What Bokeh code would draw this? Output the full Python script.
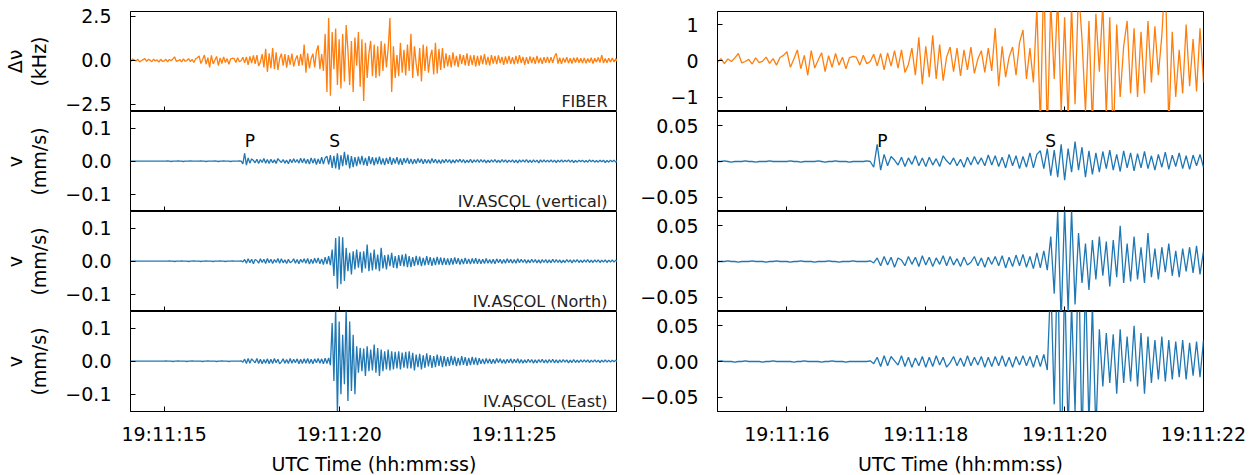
import numpy as np
from bokeh.plotting import figure
from bokeh.models import Range1d, FixedTicker, Label
from bokeh.layouts import column, row
from bokeh.embed import file_html
from bokeh.resources import INLINE

# ---------------- data ----------------
# time grid: seconds after 19:11:00, sampled every 0.05 s starting at 19:11:14
T0 = 14.0
DT = 0.05

# fiber frequency shift, in units of 0.01 kHz
fiber = [
    3, -5, 8, 2, -4, 6, -9, -2, 4, 10, -6, 5, 1, -8, 7, -4, 3, -10, 6, -5,
    -4, 6, -8, 5, -2, 8, 20, -6, -2, 4, -9, 8, -5, -1, 10, -7, 6, -12, 9, 15,
    25, -18, 5, 30, -22, 15, -40, 28, -20, 2, 22, -30, 14, -18, 20, -12, 10, -22, 8, 12,
    10, -12, 15, -8, -2, 18, -14, 20, -25, 22, -15, 28, -20, 30, -32, -10, 35, -40, 65, -65,
    40, -45, 70, -50, 45, -55, 10, 38, -30, 35, -42, 30, -25, 38, -35, 5, 28, -32, 35, -28,
    90, -70, 40, -45, 10, 38, -40, 50, 85, -50, 35, -60, 150, -180, 240, -200, 160, -50, 180, -140,
    120, -160, 150, -120, 200, 60, -140, 110, -180, 130, -30, 160, -150, 120, -230, 100, -100, 40, 110, -90,
    90, -100, 80, -90, 110, -60, 95, -40, 70, 240, -180, 80, -100, 30, -90, 100, -70, 60, -85, 90,
    -60, 150, -100, 80, -20, -90, 70, -120, 90, -60, 80, -70, 20, 60, -80, 100, -75, 65, -55, 70,
    -45, 40, -35, 30, -40, 45, -30, 25, -38, 35, -20, 30, -28, 40, -32, 28, -25, 30, -35, 25,
    -30, 28, -22, 35, -25, 20, -28, 30, -18, 25, -22, 28, -15, 20, -26, 22, -18, 25, -20, 18,
    -22, 25, -18, 30, -15, 20, -25, 18, -20, 22, -15, 18, -20, 25, -16, 15, -20, 18, -14, 20,
    -16, 18, -14, 22, 40, -18, 15, -20, 14, -12, 18, -16, 12, -18, 15, -12, 16, -14, 12, -15,
    14, -16, 10, -12, 15, -18, 12, -10, 16, -12, 30, -15, 10, -14, 12, -10, 13, -9, 10, -8,
    6,
]

# IV.ASCOL velocities, in micrometres per second
vertical = [
    0, 0, 0, 0, 0, 0, 0, 0, 0, 0, 0, 0, 0, 0, 0, 0, 0, 0, 0, 0,
    0, 0, 1, 0, -1, 0, 0, 0, 1, 0, 0, -1, 0, 0, 0, 1, 0, 0, 0, 0,
    0, 1, 0, 0, -1, 0, 0, 0, 0, 1, 0, -1, 0, 0, 1, 0, 0, 0, -1, 0,
    0, 0, 0, 1, 0, -8, 24, -12, 10, -6, 7, 2, -5, 6, -7, 5, -4, 8, -6, 5,
    -7, 6, -5, 4, -7, 8, 1, -4, 5, -6, 3, -8, 6, -5, 7, -4, 5, -6, 9, -5,
    8, -7, 6, -9, 10, -6, 8, -10, 7, -8, 12, -9, 10, 15, -10, 18, -20, 16, -22, 24,
    -26, 18, -15, 28, -12, 20, -22, 15, -18, 12, -15, 14, -10, 16, -12, 10, -14, 15, -9, 12,
    -13, 11, -9, 14, -10, 8, -12, 10, -8, 13, -11, 9, -7, 12, -10, 8, -11, 9, -6, 10,
    -8, 7, -9, 6, -7, 8, -5, 7, -8, 6, -6, 5, -7, 8, -5, 6, -6, 4, -7, 5,
    -5, 6, -4, 5, -6, 4, -5, 5, -3, 6, -4, 5, -5, 3, -4, 6, -5, 4, -3, 5,
    -4, 5, -3, 4, -5, 3, -4, 4, -3, 5, -4, 3, -4, 5, -3, 4, -4, 3, -3, 4,
    -4, 3, -5, 4, -3, 4, -3, 5, -4, 3, -4, 4, -3, 3, -5, 4, -3, 4, -3, 3,
    -3, 4, -3, 3, -4, 3, -3, 4, -3, 3, -2, 4, -3, 3, -4, 2, -3, 3, -2, 3,
    -3, 2, -3, 4, -2, 3, -3, 2, -3, 3, -2, 3, -4, 2, -3, 3, -2, 3, -3, 2,
    -2,
]

north = [
    0, 0, 0, 0, 0, 0, 0, 0, 0, 0, 0, 0, 0, 0, 0, 0, 0, 0, 0, 0,
    0, 0, 0, 1, 0, 0, -1, 0, 0, 0, 1, 0, 0, 0, -1, 0, 0, 1, 0, 0,
    0, -1, 0, 0, 1, 0, 0, 0, -1, 0, 0, 0, 1, 0, 0, -1, 0, 0, 0, 1,
    0, 0, 0, 0, 1, -2, 5, -6, 7, -5, 6, -8, 5, 2, -6, 7, -4, 6, -7, 8,
    -5, 6, -7, 5, -4, 8, -6, 7, -5, 4, -7, 6, -5, -1, 7, -6, 5, -8, 6, -4,
    7, -6, 8, -9, 6, -7, 9, -6, 10, -8, 7, -10, 12, -9, 15, -12, 35, -45, 70, -83,
    75, -70, 72, -60, 40, -30, 25, -40, 30, -25, 35, -20, 28, -35, 30, -22, 50, -30, 25, -28,
    35, -25, 20, -30, 40, -22, 18, -25, 20, -15, 25, -20, 15, -22, 18, -14, 20, -16, 22, -18,
    15, -18, 12, -14, 16, -12, 14, -15, 10, -13, 15, -11, 12, -14, 10, -12, 13, -10, 11, -12,
    10, -11, 8, -12, 9, -10, 11, -8, 9, -10, 7, -9, 10, -8, 7, -9, 8, -7, 9, -8,
    7, -8, 6, -7, 8, -6, 5, -7, 6, -8, 7, -5, 6, -7, 5, -6, 7, -5, 6, -6,
    5, -6, 7, -5, 6, -4, 5, -6, 4, -5, 6, -4, 5, -5, 4, -6, 5, -4, 5, -5,
    4, -5, 6, -4, 5, -4, 4, -5, 3, -4, 5, -3, 4, -5, 4, -3, 5, -4, 3, -4,
    4, -3, 5, -4, 3, -4, 4, -3, 4, -4, 3, -3, 4, -4, 3, -3, 4, -3, 3, -3,
    2,
]

east = [
    0, 0, 0, 0, 0, 0, 0, 0, 0, 0, 0, 0, 0, 0, 0, 0, 0, 0, 0, 0,
    0, 1, 0, 0, 0, -1, 0, 0, 1, 0, 0, 0, 0, -1, 0, 0, 1, 0, 0, 0,
    0, 0, -1, 0, 0, 1, 0, 0, 0, 0, -1, 0, 0, 1, 0, 0, 0, -1, 0, 0,
    0, 0, 0, 0, 1, -3, 6, -7, 8, -6, 7, 1, -5, 8, -7, 6, -8, 5, -6, 7,
    -8, 6, -7, 8, -5, 6, -8, -2, 7, -6, 5, -7, 8, -6, 6, -5, 7, -8, 6, -7,
    7, -6, 8, -7, 6, -8, 7, -5, 8, -6, 7, -8, 9, -7, 10, -12, 115, -60, 160, -160,
    120, -100, 80, -70, 160, -120, 120, -90, 80, -100, 45, -35, 40, -30, 38, -45, 45, -30, 35, -28,
    50, -35, 40, -45, 35, -30, 30, -25, 35, -28, 30, -25, 28, -22, 30, -25, 26, -20, 28, -22,
    30, -22, 25, -28, 20, -18, 22, -25, 18, -20, 24, -16, 18, -20, 15, -18, 20, -14, 16, -18,
    15, -16, 12, -14, 16, -12, 14, -15, 10, -13, 15, -11, 12, -14, 10, -12, 13, -10, 11, -12,
    9, -8, 7, -9, 8, -6, 7, -8, 6, -7, 8, -5, 7, -6, 5, -7, 6, -5, 7, -6,
    6, -5, 7, -6, 5, -6, 4, -5, 6, -4, 5, -6, 4, -5, 5, -4, 6, -5, 4, -5,
    5, -4, 6, -5, 4, -5, 4, -4, 5, -3, 4, -5, 3, -4, 5, -4, 3, -4, 4, -3,
    4, -3, 4, -4, 3, -3, 4, -3, 3, -4, 3, -3, 4, -3, 3, -3, 3, -2, 3, -3,
    2,
]

FIBER_UNIT = 0.01   # kHz per stored unit
VEL_UNIT = 0.001    # mm/s per stored unit

station_labels = ["FIBER", "IV.ASCOL (vertical)", "IV.ASCOL (North)", "IV.ASCOL (East)"]
y_labels = ["Δν\n(kHz)", "v\n(mm/s)", "v\n(mm/s)", "v\n(mm/s)"]

left_xticks = [15, 20, 25]
left_xlabels = ["19:11:15", "19:11:20", "19:11:25"]
right_xticks = [16, 18, 20, 22]
right_xlabels = ["19:11:16", "19:11:18", "19:11:20", "19:11:22"]

fiber_left_yticks = [-2.5, 0.0, 2.5]
fiber_left_ylabels = ["−2.5", "0.0", "2.5"]
fiber_right_yticks = [-1, 0, 1]
fiber_right_ylabels = ["−1", "0", "1"]
vel_left_yticks = [-0.1, 0.0, 0.1]
vel_left_ylabels = ["−0.1", "0.0", "0.1"]
vel_right_yticks = [-0.05, 0.0, 0.05]
vel_right_ylabels = ["−0.05", "0.00", "0.05"]

phase_names = ["P", "S"]
phase_times = [17.3, 19.72]

# ---------------- styling ----------------
ORANGE = "#ff7f0e"
BLUE = "#1f77b4"
FONT = "DejaVu Sans"
TICK_FS = "19px"
ANN_FS = "16px"

LEFT_X = (14.04, 27.95)
RIGHT_X = (15.0, 22.0)
FIBER_LEFT_Y = (-2.9, 2.77)
FIBER_RIGHT_Y = (-1.4, 1.36)
VEL_LEFT_Y = (-0.152, 0.15)
VEL_RIGHT_Y = (-0.07, 0.07)


def make_fig(xr, yr, fw, border_left, border_right, top, bottom_panel,
             xticks, xlabels, yticks, ylabels, ylabel=None):
    p = figure(frame_width=fw, frame_height=100,
               x_range=Range1d(*xr), y_range=Range1d(*yr),
               output_backend="svg", toolbar_location=None,
               min_border_left=border_left, min_border_right=border_right,
               min_border_top=11 if top else 0, min_border_bottom=0)
    p.xgrid.visible = False
    p.ygrid.visible = False
    p.outline_line_color = "black"
    p.outline_line_width = 1
    p.background_fill_color = "white"
    p.border_fill_color = "white"
    for ax in (p.xaxis[0], p.yaxis[0]):
        ax.axis_line_color = "black"
        ax.major_tick_in = 5
        ax.major_tick_out = 0
        ax.major_tick_line_color = "black"
        ax.minor_tick_line_color = None
        ax.major_label_text_font = FONT
        ax.major_label_text_font_size = TICK_FS
        ax.major_label_text_color = "black"
        ax.axis_label_text_font = FONT
        ax.axis_label_text_font_size = TICK_FS
        ax.axis_label_text_font_style = "normal"
        ax.axis_label_text_color = "black"
    p.xaxis.ticker = FixedTicker(ticks=xticks)
    p.xaxis.major_label_overrides = {float(t): s for t, s in zip(xticks, xlabels)}
    p.yaxis.ticker = FixedTicker(ticks=yticks)
    p.yaxis.major_label_overrides = {float(t): s for t, s in zip(yticks, ylabels)}
    p.yaxis.major_label_standoff = 19
    if bottom_panel:
        p.xaxis.major_label_standoff = 11
        p.xaxis.axis_label = "UTC Time (hh:mm:ss)"
        p.xaxis.axis_label_standoff = 5
    else:
        # inner panels: ticks only, axis drawn on the frame edge, taking no space
        p.xaxis.fixed_location = yr[0]
        p.xaxis.major_label_text_color = None
    if ylabel:
        p.yaxis.axis_label = ylabel
        p.yaxis.axis_label_standoff = 12
        p.yaxis.axis_label_text_line_height = 1.1
    return p


series = [(fiber, FIBER_UNIT, ORANGE), (vertical, VEL_UNIT, BLUE),
          (north, VEL_UNIT, BLUE), (east, VEL_UNIT, BLUE)]

rows = []
for k, (vals, unit, color) in enumerate(series):
    t = T0 + DT * np.arange(len(vals))
    y = np.array(vals, dtype=float) * unit
    is_fiber = k == 0
    bottom = k == 3
    lyr = FIBER_LEFT_Y if is_fiber else VEL_LEFT_Y
    ryr = FIBER_RIGHT_Y if is_fiber else VEL_RIGHT_Y
    lyt, lyl = (fiber_left_yticks, fiber_left_ylabels) if is_fiber else (vel_left_yticks, vel_left_ylabels)
    ryt, ryl = (fiber_right_yticks, fiber_right_ylabels) if is_fiber else (vel_right_yticks, vel_right_ylabels)

    pl = make_fig(LEFT_X, lyr, 487, 130, 0, k == 0, bottom,
                  left_xticks, left_xlabels, lyt, lyl, ylabel=y_labels[k])
    pr = make_fig(RIGHT_X, ryr, 486, 100, 45, k == 0, bottom,
                  right_xticks, right_xlabels, ryt, ryl)
    pl.line(t, y, line_color=color, line_width=1.3)
    pr.line(t, y, line_color=color, line_width=1.3)

    # station label, bottom-right inside the left panel
    lx = LEFT_X[1] - 10 * (LEFT_X[1] - LEFT_X[0]) / 487
    ly = lyr[0] + 10 * (lyr[1] - lyr[0]) / 100
    pl.add_layout(Label(x=lx, y=ly, text=station_labels[k], text_align="right",
                        text_baseline="alphabetic", text_font=FONT,
                        text_font_size=ANN_FS, text_color="#222222"))

    if k == 1:
        for name, tt in zip(phase_names, phase_times):
            pl.add_layout(Label(x=tt, y=0.062, text=name, text_align="left",
                                text_baseline="alphabetic", text_font=FONT,
                                text_font_size="17px", text_color="black"))
            pr.add_layout(Label(x=tt, y=0.029, text=name, text_align="left",
                                text_baseline="alphabetic", text_font=FONT,
                                text_font_size="17px", text_color="black"))
    rows.append(row(pl, pr))

layout = column(*rows)
open("out.html", "w").write(file_html(layout, INLINE))
